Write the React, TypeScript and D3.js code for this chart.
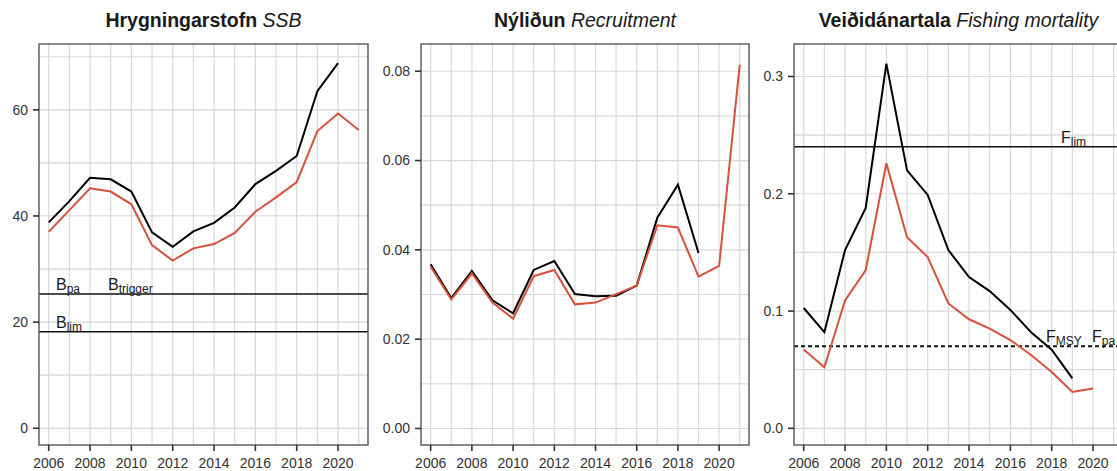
import React from "react";
import * as d3 from "d3";

// years on the x axis
const years = [2006, 2007, 2008, 2009, 2010, 2011, 2012, 2013, 2014, 2015, 2016, 2017, 2018, 2019, 2020, 2021];
const xTicks = [2006, 2008, 2010, 2012, 2014, 2016, 2018, 2020];

// spawning stock biomass
const ssbOld = [38.8, 42.8, 47.2, 46.9, 44.6, 36.9, 34.2, 37.1, 38.7, 41.6, 46.0, 48.5, 51.3, 63.5, 68.8];
const ssbNew = [37.0, 41.1, 45.2, 44.6, 42.2, 34.5, 31.6, 33.9, 34.7, 36.8, 40.8, 43.5, 46.4, 56.0, 59.3, 56.2];

// recruitment
const recOld = [0.0368, 0.0292, 0.0353, 0.0287, 0.0258, 0.0355, 0.0375, 0.0301, 0.0296, 0.0297, 0.032, 0.0472, 0.0546, 0.0393];
const recNew = [0.0362, 0.0289, 0.0347, 0.0282, 0.0246, 0.0341, 0.0355, 0.0278, 0.0282, 0.0301, 0.032, 0.0455, 0.045, 0.034, 0.0364, 0.0815];

// fishing mortality
const fOld = [0.1026, 0.082, 0.152, 0.188, 0.311, 0.22, 0.199, 0.152, 0.129, 0.117, 0.101, 0.082, 0.067, 0.0426];
const fNew = [0.0673, 0.052, 0.109, 0.135, 0.226, 0.163, 0.146, 0.1065, 0.093, 0.085, 0.0753, 0.0625, 0.048, 0.031, 0.034];

const ssbTicks = [0, 20, 40, 60];
const recTicks = [0, 0.02, 0.04, 0.06, 0.08];
const fTicks = [0, 0.1, 0.2, 0.3];

const RED = "#d6523b";
const FONT = "'Liberation Sans', Arial, Helvetica, sans-serif";

type RefLine = { value: number; dashed?: boolean; labels: { x: number; main: string; sub: string }[] };

type PanelProps = {
  left: number;
  right: number;
  yDomain: [number, number];
  yTicks: number[];
  yFormat: (v: number) => string;
  title: string;
  subtitle: string;
  oldSeries: number[];
  newSeries: number[];
  refs: RefLine[];
};

const TOP = 44;
const BOTTOM = 445;

const Panel: React.FC<PanelProps> = ({ left, right, yDomain, yTicks, yFormat, title, subtitle, oldSeries, newSeries, refs }) => {
  const x = d3.scaleLinear().domain([2005.53, 2021.45]).range([left, right]);
  const y = d3.scaleLinear().domain(yDomain).range([BOTTOM, TOP]);
  const step = yTicks[1] - yTicks[0];
  const minor = yTicks.map((t) => t + step / 2).filter((v) => v < yDomain[1]);
  const line = d3
    .line<number>()
    .x((_, i) => x(years[i]))
    .y((d) => y(d));
  return (
    <g>
      <text x={(left + right) / 2} y={27} textAnchor="middle" fontFamily={FONT} fontSize={19.5} fill="#1a1a1a">
        <tspan fontWeight="bold">{title}</tspan>
        <tspan fontStyle="italic">{" " + subtitle}</tspan>
      </text>
      {/* grid */}
      {[...yTicks, ...minor].map((t) => (
        <line key={"h" + t} x1={left} x2={right} y1={y(t)} y2={y(t)} stroke="#d9d9d9" strokeWidth={1.2} />
      ))}
      {years.map((yr) => (
        <line key={"v" + yr} x1={x(yr)} x2={x(yr)} y1={TOP} y2={BOTTOM} stroke="#d9d9d9" strokeWidth={1.2} />
      ))}
      {/* reference lines */}
      {refs.map((r, i) => (
        <g key={"r" + i}>
          <line
            x1={left}
            x2={right}
            y1={y(r.value)}
            y2={y(r.value)}
            stroke="#111"
            strokeWidth={r.dashed ? 2 : 1.5}
            strokeDasharray={r.dashed ? "4,3" : undefined}
          />
          {r.labels.map((l) => (
            <text key={l.main + l.sub} x={l.x} y={y(r.value) - 4} fontFamily={FONT} fontSize={16} fill="#1a1a1a">
              {l.main}
              <tspan fontSize={12} dy={3}>{l.sub}</tspan>
            </text>
          ))}
        </g>
      ))}
      {/* series */}
      <path d={line(oldSeries) || ""} fill="none" stroke="#000" strokeWidth={2} />
      <path d={line(newSeries) || ""} fill="none" stroke={RED} strokeWidth={2} />
      {/* frame */}
      <rect x={left} y={TOP} width={right - left} height={BOTTOM - TOP} fill="none" stroke="#555" strokeWidth={1.4} />
      {/* y axis */}
      {yTicks.map((t) => (
        <g key={"yt" + t}>
          <line x1={left - 6} x2={left} y1={y(t)} y2={y(t)} stroke="#333" strokeWidth={1.6} />
          <text x={left - 11} y={y(t)} dy="0.35em" textAnchor="end" fontFamily={FONT} fontSize={14} fill="#333">
            {yFormat(t)}
          </text>
        </g>
      ))}
      {/* x axis */}
      {xTicks.map((t) => (
        <g key={"xt" + t}>
          <line x1={x(t)} x2={x(t)} y1={BOTTOM} y2={BOTTOM + 6} stroke="#333" strokeWidth={1.6} />
          <text x={x(t)} y={468} textAnchor="middle" fontFamily={FONT} fontSize={14} fill="#333">
            {t}
          </text>
        </g>
      ))}
    </g>
  );
};

export default function App() {
  return (
    <svg
      width={1117}
      height={471}
      style={{ position: "absolute", left: 0, top: 0, background: "#fff" }}
    >
      <Panel
        left={39}
        right={368}
        yDomain={[-3.15, 72.4]}
        yTicks={ssbTicks}
        yFormat={(v) => d3.format("d")(v)}
        title="Hrygningarstofn"
        subtitle="SSB"
        oldSeries={ssbOld}
        newSeries={ssbNew}
        refs={[
          { value: 25.3, labels: [{ x: 56, main: "B", sub: "pa" }, { x: 108, main: "B", sub: "trigger" }] },
          { value: 18.2, labels: [{ x: 56, main: "B", sub: "lim" }] },
        ]}
      />
      <Panel
        left={421}
        right={749}
        yDomain={[-0.0037, 0.0861]}
        yTicks={recTicks}
        yFormat={(v) => d3.format(".2f")(v)}
        title="Nýliðun"
        subtitle="Recruitment"
        oldSeries={recOld}
        newSeries={recNew}
        refs={[]}
      />
      <Panel
        left={794}
        right={1123}
        yDomain={[-0.0142, 0.3277]}
        yTicks={fTicks}
        yFormat={(v) => d3.format(".1f")(v)}
        title="Veiðidánartala"
        subtitle="Fishing mortality"
        oldSeries={fOld}
        newSeries={fNew}
        refs={[
          { value: 0.24, labels: [{ x: 1061, main: "F", sub: "lim" }] },
          { value: 0.07, dashed: true, labels: [{ x: 1046, main: "F", sub: "MSY" }, { x: 1092, main: "F", sub: "pa" }] },
        ]}
      />
    </svg>
  );
}
